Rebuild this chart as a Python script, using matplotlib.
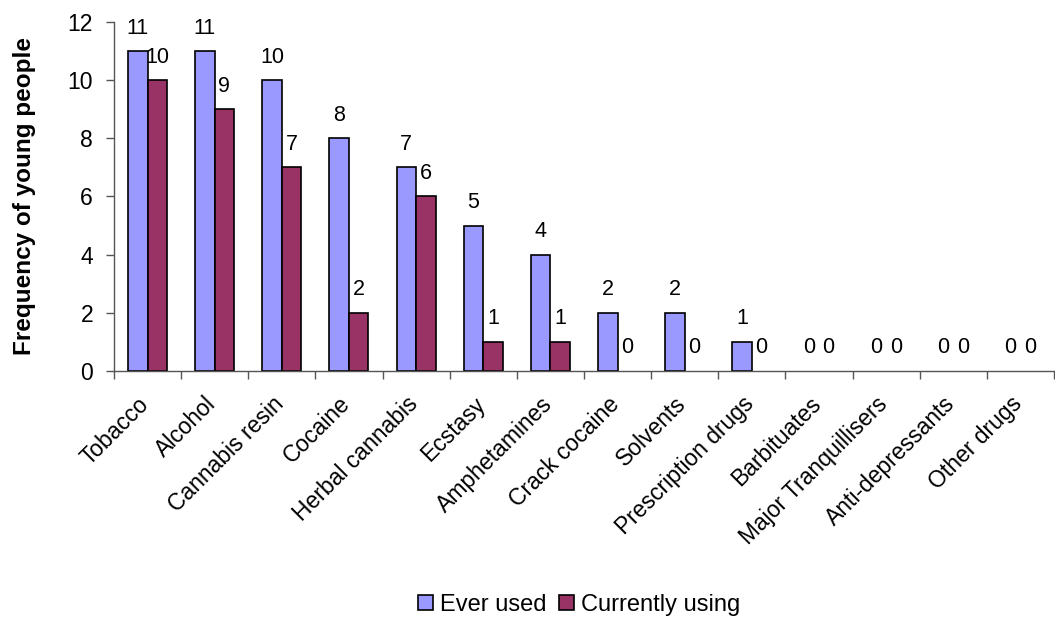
import numpy as np
import matplotlib.pyplot as plt
import matplotlib.transforms as mtransforms

categories = ["Tobacco", "Alcohol", "Cannabis resin", "Cocaine", "Herbal cannabis",
              "Ecstasy", "Amphetamines", "Crack cocaine", "Solvents", "Prescription drugs",
              "Barbituates", "Major Tranquillisers", "Anti-depressants", "Other drugs"]
ever_used = [11, 11, 10, 8, 7, 5, 4, 2, 2, 1, 0, 0, 0, 0]
currently_using = [10, 9, 7, 2, 6, 1, 1, 0, 0, 0, 0, 0, 0, 0]

plt.rcParams['font.family'] = ['Liberation Sans', 'DejaVu Sans']

fig = plt.figure(figsize=(10.55, 6.21), dpi=100)
ax = fig.add_axes([0.108, 0.4026, 0.891, 0.562])

x = np.arange(len(categories))
w = 0.29
b1 = ax.bar(x - w / 2, ever_used, w, color='#9999FF', edgecolor='black', linewidth=1.2,
            label='Ever used')
b2 = ax.bar(x + w / 2, currently_using, w, color='#993366', edgecolor='black', linewidth=1.2,
            label='Currently using')

for bars, vals in ((b1, ever_used), (b2, currently_using)):
    for rect, v in zip(bars, vals):
        if v == 0:
            rect.set_visible(False)
        ax.annotate(f"{v}", (rect.get_x() + rect.get_width() / 2, v),
                    xytext=(0, 9), textcoords='offset points',
                    ha='center', va='bottom', fontsize=15.5)

ax.set_xlim(-0.5, len(categories) - 0.5)
ax.set_ylim(0, 12)
ax.set_yticks(range(0, 13, 2))
ax.tick_params(axis='y', labelsize=16.5, length=6, width=1, color='#555555', pad=9)

ax.set_xticks(np.arange(len(categories) + 1) - 0.5)
ax.set_xticklabels([])
ax.tick_params(axis='x', length=6, width=1, color='#555555')
ax.set_xticks(x, minor=True)
ax.set_xticklabels(categories, minor=True, rotation=45, ha='right', va='top',
                   rotation_mode='anchor', fontsize=16.5)
ax.tick_params(axis='x', which='minor', length=0, pad=14)
shift = mtransforms.ScaledTranslation(-10 / 100, -2 / 100, fig.dpi_scale_trans)
for lbl in ax.get_xticklabels(minor=True):
    lbl.set_transform(lbl.get_transform() + shift)

for s in ('top', 'right'):
    ax.spines[s].set_visible(False)
for s in ('left', 'bottom'):
    ax.spines[s].set_color('#555555')
    ax.spines[s].set_linewidth(1)

ax.set_ylabel("Frequency of young people", fontsize=17.5, fontweight='bold')
ax.yaxis.set_label_coords(-0.083, 0.5)

fig.legend(handles=[b1, b2], loc='center', bbox_to_anchor=(0.549, 0.026), ncol=2,
           frameon=False, fontsize=17, handlelength=0.65, handleheight=0.65,
           handletextpad=0.3, columnspacing=0.5)

fig.savefig("out.png", dpi=100)
